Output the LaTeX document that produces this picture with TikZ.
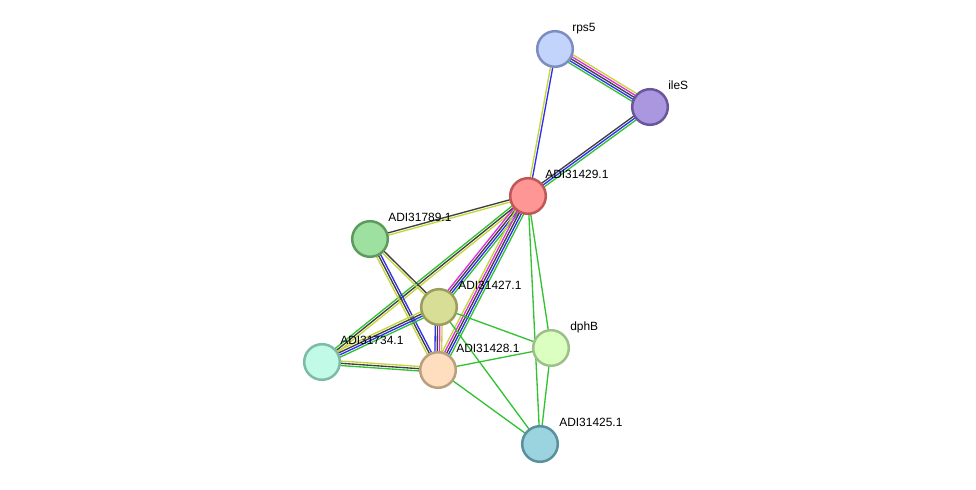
\documentclass[tikz,border=0pt]{standalone}
\usepackage{fontspec}
\setmainfont{Liberation Sans}
\usepackage{tikz}
\usetikzlibrary{calc,backgrounds}
\definecolor{evgreen}{HTML}{33C233}
\definecolor{evblue}{HTML}{2F2FF2}
\definecolor{evblack}{HTML}{3F3F3F}
\definecolor{evmagenta}{HTML}{DE2EDE}
\definecolor{evyellow}{HTML}{C5D63C}
\definecolor{rpsfill}{HTML}{C2D3FC}\definecolor{rpsdraw}{HTML}{7B8DC1}
\definecolor{ilefill}{HTML}{AA97E0}\definecolor{iledraw}{HTML}{6A569D}
\definecolor{hubfill}{HTML}{FF9696}\definecolor{hubdraw}{HTML}{C05757}
\definecolor{greenfill}{HTML}{9EE09F}\definecolor{greendraw}{HTML}{5D9A5E}
\definecolor{olivefill}{HTML}{D9DE97}\definecolor{olivedraw}{HTML}{9A9D5B}
\definecolor{mintfill}{HTML}{C1FBE7}\definecolor{mintdraw}{HTML}{7EBAA8}
\definecolor{peachfill}{HTML}{FEDEBE}\definecolor{peachdraw}{HTML}{B89F7F}
\definecolor{limefill}{HTML}{DBFFC1}\definecolor{limedraw}{HTML}{9DBF88}
\definecolor{tealfill}{HTML}{9BD3DF}\definecolor{tealdraw}{HTML}{5A8F9C}

% parallel evidence lines between two nodes
\newcommand{\bundle}[4]{%
  \foreach \c [count=\i] in {#4} {%
    \pgfmathsetmacro\off{(\i-(#3+1)/2)*1.6}%
    \draw[evline,\c] ($(#1)!\off pt!-90:(#2)$) -- ($(#2)!\off pt!90:(#1)$);
  }}

\begin{document}
\begin{tikzpicture}[
  x=0.025cm, y=-0.025cm,
  font=\fontsize{8.5}{10}\selectfont,
  prot/.style={circle,line width=0.0625cm,minimum size=0.89cm,inner sep=0pt},
  lbl/.style={anchor=base west,inner sep=0pt,text=black},
  evline/.style={line width=0.95pt},
]
\useasboundingbox (0,0) rectangle (976,490);
% Proteins
\node[prot,fill=rpsfill,draw=rpsdraw]     (rps5) at (555,49)  {};
\node[prot,fill=ilefill,draw=iledraw]     (ileS) at (650,107) {};
\node[prot,fill=hubfill,draw=hubdraw]     (a429) at (528,196) {};
\node[prot,fill=greenfill,draw=greendraw] (a789) at (370,239) {};
\node[prot,fill=olivefill,draw=olivedraw] (a427) at (439,307) {};
\node[prot,fill=mintfill,draw=mintdraw]   (a734) at (322,362) {};
\node[prot,fill=peachfill,draw=peachdraw] (a428) at (438,370) {};
\node[prot,fill=limefill,draw=limedraw]   (dphB) at (551,348) {};
\node[prot,fill=tealfill,draw=tealdraw]   (a425) at (540,444) {};

% Labels
\node[lbl] (l-rps5) at ($(rps5)+(17,-17)$) {rps5};
\node[lbl] (l-ileS) at ($(ileS)+(18,-17)$) {ileS};
\node[lbl] (l-a429) at ($(a429)+(17,-17)$) {ADI31429.1};
\node[lbl] (l-a789) at ($(a789)+(18,-17)$) {ADI31789.1};
\node[lbl] (l-a427) at ($(a427)+(19,-17)$) {ADI31427.1};
\node[lbl] (l-a734) at ($(a734)+(18,-17)$) {ADI31734.1};
\node[lbl] (l-a428) at ($(a428)+(18,-17)$) {ADI31428.1};
\node[lbl] (l-dphB) at ($(dphB)+(19,-17)$) {dphB};
\node[lbl] (l-a425) at ($(a425)+(19,-17)$) {ADI31425.1};

% Edges, behind the proteins
\begin{scope}[on background layer]
\bundle{rps5}{ileS}{5}{evyellow,evmagenta,evblack,evblue,evgreen}
\bundle{rps5}{a429}{2}{evblue,evyellow}
\bundle{ileS}{a429}{3}{evgreen,evblue,evblack}
\bundle{a429}{a789}{2}{evyellow,evblack}
\bundle{a429}{a734}{3}{evyellow,evblack,evgreen}
\bundle{a429}{a427}{4}{evgreen,evblue,evblack,evmagenta}
\bundle{a429}{a428}{5}{evgreen,evblue,evblack,evmagenta,evyellow}
\bundle{a429}{dphB}{1}{evgreen}
\bundle{a429}{a425}{1}{evgreen}
\bundle{a789}{a427}{2}{evblack,evyellow}
\bundle{a789}{a428}{3}{evblue,evblack,evyellow}
\bundle{a734}{a427}{4}{evyellow,evblack,evblue,evgreen}
\bundle{a734}{a428}{3}{evyellow,evblack,evgreen}
\bundle{a427}{a428}{4}{evyellow,evmagenta,evblack,evblue}
\bundle{a427}{dphB}{1}{evgreen}
\bundle{a427}{a425}{1}{evgreen}
\bundle{a428}{dphB}{1}{evgreen}
\bundle{a428}{a425}{1}{evgreen}
\bundle{dphB}{a425}{1}{evgreen}
\end{scope}
\end{tikzpicture}
\end{document}
